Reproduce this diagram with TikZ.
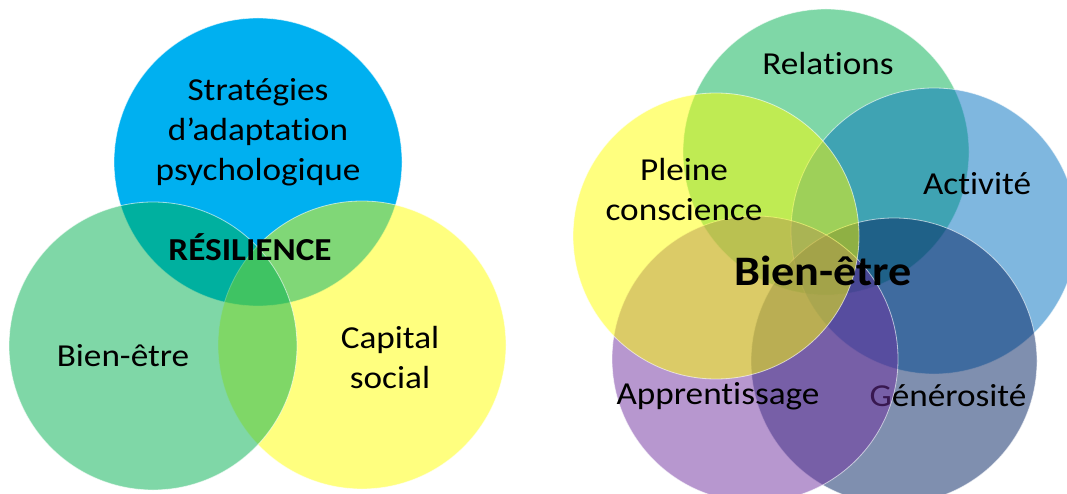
\documentclass[tikz,border=0pt]{standalone}
\usepackage{fontspec}
\setmainfont{Carlito}[FakeStretch=1.1, Ligatures=NoCommon]
\definecolor{cyanS}{HTML}{00B0F0}
\definecolor{greenS}{HTML}{00B050}
\definecolor{yellowS}{HTML}{FFFF00}
\definecolor{blueS}{HTML}{0070C0}
\definecolor{navyS}{HTML}{002060}
\definecolor{purpleS}{HTML}{7030A0}
\tikzset{
  ring/.style={fill=#1, fill opacity=0.5, draw=white, draw opacity=0.6, line width=0.8pt},
  label/.style={align=center, inner sep=0pt, font=\fontsize{32}{40}\selectfont}
}
\begin{document}
\begin{tikzpicture}[x=1pt, y=-1pt, line join=round, line cap=round]
\clip (0,0) rectangle (1067,494);
% left diagram : resilience
\coordinate (strat) at (258,162);
\coordinate (bien) at (153,346);
\coordinate (capital) at (362,345);
\fill[cyanS, draw=white, draw opacity=0.6, line width=0.8pt] (strat) circle[radius=144pt];
\draw[ring=yellowS] (capital) circle[radius=144pt];
\draw[ring=greenS] (bien) circle[radius=144pt];
\node[label] (tstrat) at (258,132) {Stratégies\\d’adaptation\\psychologique};
\node[label] (tbien) at (123,356) {Bien-être};
\node[label] (tcapital) at (390,358) {Capital\\social};
\node[label, font=\fontsize{32}{36}\selectfont\bfseries] (tres) at (250,247) {RÉSILIENCE};
% right diagram : bien-etre
\coordinate (rel) at (826,152);
\coordinate (act) at (934,231);
\coordinate (gen) at (894,361);
\coordinate (app) at (755,359);
\coordinate (pleine) at (716,236);
\draw[ring=greenS] (rel) circle[radius=143pt];
\draw[ring=blueS] (act) circle[radius=143pt];
\draw[ring=navyS] (gen) circle[radius=143pt];
\node[label] (tgen) at (948,396) {Générosité};
\draw[ring=purpleS] (app) circle[radius=143pt];
\draw[ring=yellowS] (pleine) circle[radius=143pt];
\node[label] (trel) at (828,64) {Relations};
\node[label] (tact) at (977,184) {Activité};
\node[label] (tpleine) at (684,190) {Pleine\\conscience};
\node[label] (tapp) at (718,396) {Apprentissage};
\node[label, font=\fontsize{42}{48}\selectfont\bfseries] (tcentre) at (823,271) {Bien-être};
\end{tikzpicture}
\end{document}
